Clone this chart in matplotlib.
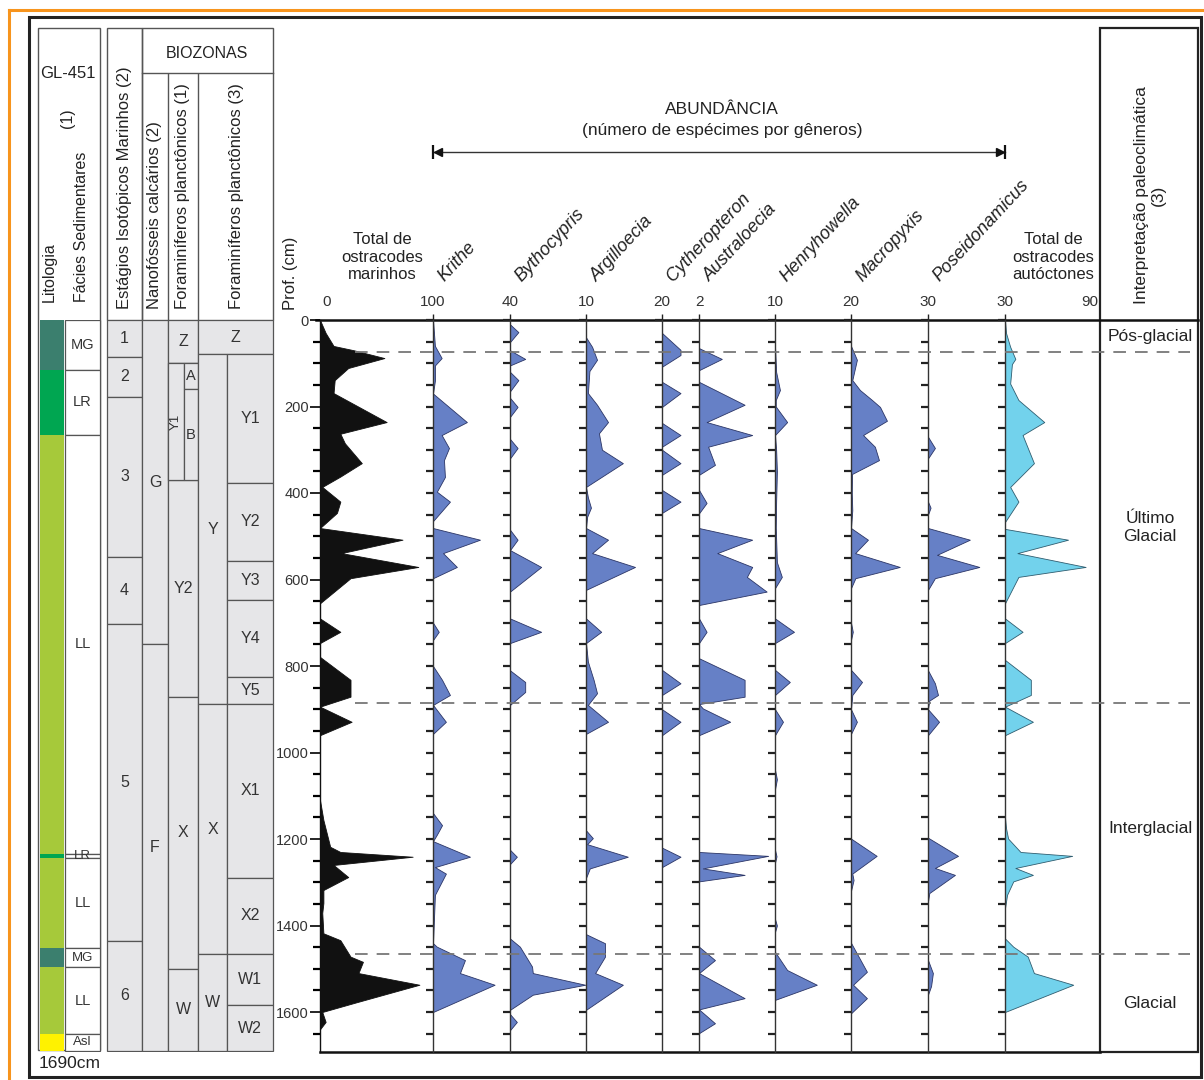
import numpy as np
import matplotlib.pyplot as plt
from matplotlib.patches import Rectangle

plt.rcParams['font.family'] = ['Liberation Sans', 'DejaVu Sans']

# ---- perfil GL-451: litologia e bioestratigrafia (profundidade em cm) ----
lito_topo = [0, 116, 265, 1235, 1245, 1452, 1497, 1650]
lito_base = [116, 265, 1235, 1245, 1452, 1497, 1650, 1690]
lito_facies = ['MG', 'LR', 'LL', 'LR', 'LL', 'MG', 'LL', 'Asl']
cores_facies = {'MG': '#3b7f6e', 'LR': '#00a651', 'LL': '#a6c93a', 'Asl': '#fff200'}

est_topo = [0, 85, 178, 548, 704, 1436]
est_base = [85, 178, 548, 704, 1436, 1690]
est_nome = ['1', '2', '3', '4', '5', '6']

nano_topo = [0, 750]
nano_base = [750, 1690]
nano_nome = ['G', 'F']

foram1_topo = [0, 99, 370, 872, 1500]
foram1_base = [99, 370, 872, 1500, 1690]
foram1_nome = ['Z', 'Y1', 'Y2', 'X', 'W']
y1_sub_topo = [99, 160]
y1_sub_base = [160, 370]
y1_sub_nome = ['A', 'B']

foram3_topo = [0, 79, 888, 1466]
foram3_base = [79, 888, 1466, 1690]
foram3_nome = ['Z', 'Y', 'X', 'W']
sub3_topo = [79, 377, 557, 647, 826, 888, 1290, 1466, 1584]
sub3_base = [377, 557, 647, 826, 888, 1290, 1466, 1584, 1690]
sub3_nome = ['Y1', 'Y2', 'Y3', 'Y4', 'Y5', 'X1', 'X2', 'W1', 'W2']

# interpretação paleoclimática
clima_limites = [74, 886, 1466]
clima_nome = ['Pós-glacial', 'Último\nGlacial', 'Interglacial', 'Glacial']

# ---- abundâncias ----
tot_mar_prof = [0, 30, 60, 70, 88, 111, 139, 169, 236, 263, 285, 331, 362, 386, 420, 446,
                481, 508, 539, 571, 597, 655, 690, 721, 747, 779, 832, 871, 894, 929, 960,
                1110, 1156, 1218, 1230, 1241, 1260, 1288, 1318, 1348, 1371, 1418, 1434, 1472,
                1484, 1510, 1537, 1577, 1600, 1623, 1640, 1690]
tot_mar = [0, 5, 12, 30, 57, 25, 13, 12, 59, 18, 22, 37, 18, 2, 18, 15,
           0, 73, 19, 87, 27, 0, 0, 18, 0, 0, 27, 27, 0, 28, 0,
           0, 3, 9, 18, 82, 12, 25, 3, 3, 2, 3, 18, 27,
           38, 34, 88, 33, 2, 5, 0, 0]

krithe_prof = [0, 60, 88, 105, 140, 170, 236, 266, 296, 324, 363, 397, 420, 465, 481, 508,
               539, 571, 597, 700, 721, 740, 800, 832, 867, 890, 929, 957, 1140, 1168, 1190,
               1205, 1241, 1265, 1280, 1329, 1441, 1449, 1480, 1510, 1537, 1600, 1690]
krithe = [0, 1, 4.5, 1, 1, 0, 17.6, 4.5, 8.3, 5.7, 6.2, 2, 8.8, 0, 0, 24.4,
          5.2, 12.4, 0, 0, 3, 0, 0, 4.7, 8.8, 0, 6.7, 0, 0, 4.7, 2,
          0, 19.2, 1, 6.7, 1, 0, 2, 16.6, 14, 32, 0, 0]

bytho_prof = [0, 10, 28, 51, 70, 90, 105, 120, 139, 165, 180, 201, 224, 275, 296, 320,
              485, 508, 532, 571, 628, 690, 721, 747, 810, 837, 860, 890, 1225, 1241, 1258,
              1430, 1449, 1495, 1510, 1537, 1560, 1595, 1605, 1623, 1642, 1690]
bytho = [0, 0, 1.1, 0, 0, 2.0, 0, 0, 1.1, 0, 0, 1.0, 0, 0, 1.0, 0,
         0, 1.0, 0, 4.1, 0, 0, 4.1, 0, 0, 2.0, 2.0, 0, 0, 0.9, 0,
         0, 1.3, 2.9, 3.0, 9.9, 3.0, 0, 0, 0.9, 0, 0]

argil_prof = [0, 40, 62, 92, 118, 169, 196, 236, 262, 300, 331, 386, 410, 434, 455, 481,
              508, 539, 571, 624, 690, 721, 747, 790, 832, 863, 890, 929, 957, 1180, 1198,
              1212, 1241, 1268, 1290, 1420, 1441, 1472, 1510, 1537, 1595, 1690]
argil = [0, 0, 1.6, 2.9, 0.9, 0.5, 2.9, 5.8, 3.4, 4.2, 9.7, 0, 0.5, 1.3, 0.3, 0,
         5.8, 1.6, 12.9, 0, 0, 4.0, 0, 0.5, 2, 2.9, 0.5, 5.8, 0, 0, 1.8,
         0.3, 11, 1, 0, 0, 5, 5, 2.4, 9.7, 0, 0]

cythe_prof = [0, 30, 69, 81, 108, 143, 169, 201, 238, 266, 293, 300, 331, 358, 393, 420,
              446, 809, 840, 867, 900, 929, 960, 1220, 1241, 1265, 1690]
cythe = [0, 0, 1, 1, 0, 0, 1, 0, 0, 1, 0, 0, 1, 0, 0, 1,
         0, 0, 1, 0, 0, 1, 0, 0, 1, 0, 0]

austr_prof = [0, 65, 90, 116, 143, 196, 236, 266, 293, 335, 358, 393, 423, 447, 481, 508,
              539, 571, 594, 628, 659, 690, 721, 747, 782, 832, 871, 888, 898, 929, 960,
              1230, 1239, 1268, 1283, 1298, 1449, 1480, 1510, 1568, 1594, 1626, 1649, 1690]
austr = [0, 0, 3.0, 0, 0, 6.0, 1.0, 7.0, 1.2, 2.1, 0, 0, 1.0, 0, 0, 7.0,
         2.4, 7.0, 6.3, 8.9, 0, 0, 1.0, 0, 0, 6.0, 6.0, 0, 0.5, 4.1, 0,
         0, 9.1, 0.5, 6.0, 0, 0, 2.1, 0, 6.0, 0, 2.1, 0, 0]

henry_prof = [0, 60, 120, 162, 185, 200, 236, 266, 300, 350, 420, 480, 560, 594, 620, 690,
              721, 747, 809, 837, 867, 900, 929, 960, 1040, 1062, 1085, 1225, 1240, 1255,
              1385, 1400, 1415, 1461, 1503, 1537, 1572, 1690]
henry = [0, 0, 0.3, 1.3, 0.2, 0.2, 3.2, 0, 0.3, 0.5, 0.3, 0.2, 0.5, 1.8, 0, 0,
         5.0, 0, 0, 3.9, 0, 0, 2.1, 0, 0, 0.5, 0, 0, 0.4, 0,
         0, 0.5, 0, 0, 3.2, 11, 0, 0]

macro_prof = [0, 60, 92, 139, 162, 185, 201, 233, 266, 293, 324, 356, 400, 440, 481, 508,
              539, 571, 597, 620, 700, 721, 740, 809, 837, 867, 900, 929, 957, 1199, 1239,
              1280, 1295, 1320, 1440, 1507, 1537, 1568, 1603, 1690]
macro = [0, 0, 2.3, 0.5, 3.5, 8.2, 11.3, 14, 4.7, 9.3, 10.9, 0.4, 0.3, 0.5, 0, 6.6,
         1.6, 19, 1.7, 0, 0, 0.7, 0, 0, 4.3, 0.5, 0, 2.3, 0, 0, 10,
         0.5, 1, 0, 0, 6.2, 0.8, 6.2, 0, 0]

posei_prof = [0, 270, 296, 320, 420, 434, 450, 481, 508, 543, 571, 597, 624, 810, 840, 867,
              880, 900, 929, 960, 1197, 1239, 1267, 1283, 1325, 1345, 1480, 1510, 1540, 1560,
              1690]
posei = [0, 0, 2.7, 0, 0, 1, 0, 0, 16.3, 3.5, 20, 2.7, 0, 0, 2.7, 3.9,
         0.5, 0, 4.3, 0, 0, 11.7, 2.7, 10.5, 0.5, 0, 0, 1.9, 1.2, 0,
         0]

tot_aut_prof = [0, 30, 62, 90, 102, 147, 185, 236, 266, 331, 386, 420, 467, 483, 508, 539,
                571, 594, 655, 690, 721, 747, 786, 832, 867, 894, 929, 960, 1150, 1175, 1199,
                1230, 1239, 1267, 1283, 1298, 1329, 1360, 1430, 1449, 1472, 1510, 1537, 1600,
                1690]
tot_aut = [0, 1, 5, 10, 6.7, 5, 13, 38, 17, 28, 5, 13, 0, 0, 61, 12,
           78, 13, 0, 0, 17, 0, 0, 25, 25, 0, 27, 0, 0, 1, 3,
           15, 65, 10, 27, 8, 2, 0, 0, 8, 22, 28, 66, 0, 0]

# ---- geometria da figura (pixels) ----
W, H = 1204, 1080
TOP, BOT = 320, 1052
DMAX = (BOT - TOP) / 0.4325

fig = plt.figure(figsize=(W / 100, H / 100), dpi=100)


def eixo(x0, x1, y0=TOP, y1=BOT):
    return fig.add_axes([x0 / W, 1 - y1 / H, (x1 - x0) / W, (y1 - y0) / H])


ov = fig.add_axes([0, 0, 1, 1])
ov.set_xlim(0, W)
ov.set_ylim(H, 0)
ov.axis('off')

# molduras
ov.plot([9, 9], [10, H], color='#f7941d', lw=2.2)
ov.plot([9, W], [10, 10], color='#f7941d', lw=2.2)
ov.add_patch(Rectangle((29, 17), 1172, 1060, fill=False, ec='#222', lw=2.2))

CEL = '#e6e6e8'
BORDA = '#555555'
fs = 11.5
TXT = '#222'

# ---- cabeçalhos das colunas à esquerda ----
ov.add_patch(Rectangle((38, 28), 62, 1022, fill=False, ec=BORDA, lw=1))
ov.text(68, 73, 'GL-451', ha='center', va='center', fontsize=12, color=TXT)
ov.text(68, 118, '(1)', rotation=90, ha='center', va='center', fontsize=fs, color=TXT)
ov.text(49, 302, 'Litologia', rotation=90, rotation_mode='anchor', ha='left', va='center',
        fontsize=fs, color=TXT)
ov.text(82, 302, 'Fácies Sedimentares', rotation=90, rotation_mode='anchor', ha='left',
        va='center', fontsize=fs, color=TXT)

ov.add_patch(Rectangle((107, 28), 35, 292, fill=False, ec=BORDA, lw=1))
ov.add_patch(Rectangle((142, 28), 131, 292, fill=False, ec=BORDA, lw=1))
ov.plot([142, 273], [73, 73], color=BORDA, lw=1)
ov.vlines([168, 198], 73, 320, color=BORDA, lw=1)
ov.text(207, 53, 'BIOZONAS', ha='center', va='center', fontsize=fs, color=TXT)
for x, txt in [(125, 'Estágios Isotópicos Marinhos (2)'),
               (155, 'Nanofósseis calcários (2)'),
               (183, 'Foraminíferos planctônicos (1)'),
               (236, 'Foraminíferos planctônicos (3)')]:
    ov.text(x, 309, txt, rotation=90, rotation_mode='anchor', ha='left', va='center',
            fontsize=12, color=TXT)
ov.text(291, 310, 'Prof. (cm)', rotation=90, rotation_mode='anchor', ha='left', va='center',
        fontsize=12, color=TXT)
ov.text(70, 1063, '1690cm', ha='center', va='center', fontsize=12.5, color=TXT)

# ---- corpo das colunas à esquerda ----
la = eixo(30, 280)
la.set_xlim(30, 280)
la.set_ylim(DMAX, 0)
la.axis('off')


def celulas(ax, x0, x1, topos, bases, nomes, fill=CEL, size=fs, rot=0):
    for t, b, n in zip(topos, bases, nomes):
        ax.add_patch(Rectangle((x0, t), x1 - x0, b - t, fc=fill, ec=BORDA, lw=0.9))
        if n:
            ax.text((x0 + x1) / 2, (t + b) / 2, n, ha='center', va='center',
                    fontsize=size, rotation=rot, color='#333')


for t, b, f in zip(lito_topo, lito_base, lito_facies):
    la.add_patch(Rectangle((40, t), 24, b - t, fc=cores_facies[f], ec='none'))
    la.add_patch(Rectangle((65, t), 35, b - t, fc='white', ec=BORDA, lw=0.9))
    la.text(82.5, (t + b) / 2, f, ha='center', va='center',
            fontsize=9.5 if b - t < 60 else 10.5, color='#333')

celulas(la, 107, 142, est_topo, est_base, est_nome)
celulas(la, 142, 168, nano_topo, nano_base, nano_nome)
nomes1 = ['' if n == 'Y1' else n for n in foram1_nome]
celulas(la, 168, 198, foram1_topo, foram1_base, nomes1)
i_y1 = foram1_nome.index('Y1')
celulas(la, 168, 184, [foram1_topo[i_y1]], [foram1_base[i_y1]], ['Y1'], size=9.5, rot=90)
celulas(la, 184, 198, y1_sub_topo, y1_sub_base, y1_sub_nome, size=10.5)
for t, b, n in zip(foram3_topo, foram3_base, foram3_nome):
    x1 = 273 if n == 'Z' else 227
    celulas(la, 198, x1, [t], [b], [n])
celulas(la, 227, 273, sub3_topo, sub3_base, sub3_nome)

# ---- perfis de abundância ----
AZUL, AZUL_B = '#6680c6', '#2b3566'
trilhas = [
    ('Total de\nostracodes\nmarinhos', tot_mar_prof, tot_mar, 320, 433, 100, '#111111', '#111111'),
    ('Krithe', krithe_prof, krithe, 433, 510, 40, AZUL, AZUL_B),
    ('Bythocypris', bytho_prof, bytho, 510, 586, 10, AZUL, AZUL_B),
    ('Argilloecia', argil_prof, argil, 586, 662, 20, AZUL, AZUL_B),
    ('Cytheropteron', cythe_prof, cythe, 662, 699, 2, AZUL, AZUL_B),
    ('Australoecia', austr_prof, austr, 699, 775, 10, AZUL, AZUL_B),
    ('Henryhowella', henry_prof, henry, 775, 851, 20, AZUL, AZUL_B),
    ('Macropyxis', macro_prof, macro, 851, 928, 30, AZUL, AZUL_B),
    ('Poseidonamicus', posei_prof, posei, 928, 1005, 30, AZUL, AZUL_B),
    ('Total de\nostracodes\nautóctones', tot_aut_prof, tot_aut, 1005, 1098, 90, '#72d2ec', '#2f5d70'),
]

for i, (nome, prof, vals, x0, x1, vmax, fc, ec) in enumerate(trilhas):
    ax = eixo(x0, x1)
    ax.fill_betweenx(prof, 0, vals, facecolor=fc, edgecolor=ec, lw=0.6)
    ax.set_xlim(0, vmax)
    ax.set_ylim(DMAX, 0)
    ax.patch.set_visible(False)
    for s in ['top', 'right', 'bottom']:
        ax.spines[s].set_visible(False)
    ax.spines['left'].set_color('#333' if i else '#111')
    ax.spines['left'].set_linewidth(1.0)
    ax.set_xticks([])
    if i == 0:
        ax.set_yticks(np.arange(0, 1601, 200))
        ax.set_yticks(np.arange(0, 1690, 50), minor=True)
        ax.tick_params(axis='y', which='major', length=7, width=1.2, labelsize=10.5,
                       labelcolor='#333', pad=1)
        ax.tick_params(axis='y', which='minor', length=5, width=1.6)
        ax.text(0.06, 1 + 18 / (BOT - TOP), '0', transform=ax.transAxes, ha='center',
                va='center', fontsize=11, color='#333')
    else:
        ax.set_yticks(np.arange(0, 1690, 50))
        ax.tick_params(axis='y', length=5, width=1.6, color='#222', labelleft=False)
    ha = 'right' if vmax == 90 else 'center'
    ax.text(1, 1 + 18 / (BOT - TOP), str(vmax), transform=ax.transAxes, ha=ha,
            va='center', fontsize=11, color='#333')
    if '\n' in nome:
        cx = (x0 + x1) / 2 + (6 if i == 0 else 2)
        ov.text(cx, 257, nome, ha='center', va='center', fontsize=12,
                linespacing=1.2, color=TXT)
    else:
        ov.text(x0 + 14, 285, nome, rotation=47, rotation_mode='anchor', ha='left',
                va='bottom', fontsize=13, style='italic', color=TXT)

# eixo superior e inferior das trilhas
ov.plot([316, 1198], [TOP, TOP], color='#111', lw=1.8)
ov.plot([320, 1100], [BOT, BOT], color='#111', lw=1.8)
ov.vlines([t[3] for t in trilhas[1:]], TOP - 6, TOP, color='#222', lw=1)

# título e seta de abundância
ov.text(722, 110, 'ABUNDÂNCIA', ha='center', va='center', fontsize=12.5, color=TXT)
ov.text(722, 130, '(número de espécimes por gêneros)', ha='center', va='center',
        fontsize=12.5, color=TXT)
xa, xb = trilhas[1][3], trilhas[-1][3]
ov.plot([xa, xb], [152, 152], color='#333', lw=1)
ov.plot([xa, xb], [152, 152], ls='none', marker='|', ms=10, mew=1.6, color='#111')
ov.plot([xa + 5], [152], marker='<', ms=6, color='#111')
ov.plot([xb - 5], [152], marker='>', ms=6, color='#111')

# coluna de interpretação paleoclimática
ov.add_patch(Rectangle((1100, 28), 98, BOT - 28, fill=False, ec='#222', lw=1.6))
ov.text(1150, 195, 'Interpretação paleoclimática\n(3)', rotation=90, ha='center',
        va='center', multialignment='center', fontsize=12.5, linespacing=1.2, color=TXT)

ca = eixo(0, W)
ca.set_xlim(0, W)
ca.set_ylim(DMAX, 0)
ca.axis('off')
ca.hlines(clima_limites, 355, 1190, colors='#777', linestyles=(0, (7, 5)), lw=1.3)
bordas = [0] + clima_limites + [DMAX]
for k, nome in enumerate(clima_nome):
    ca.text(1150, (bordas[k] + bordas[k + 1]) / 2, nome, ha='center', va='center',
            fontsize=12.5, linespacing=1.2, color=TXT)

fig.savefig('out.png', dpi=100)
